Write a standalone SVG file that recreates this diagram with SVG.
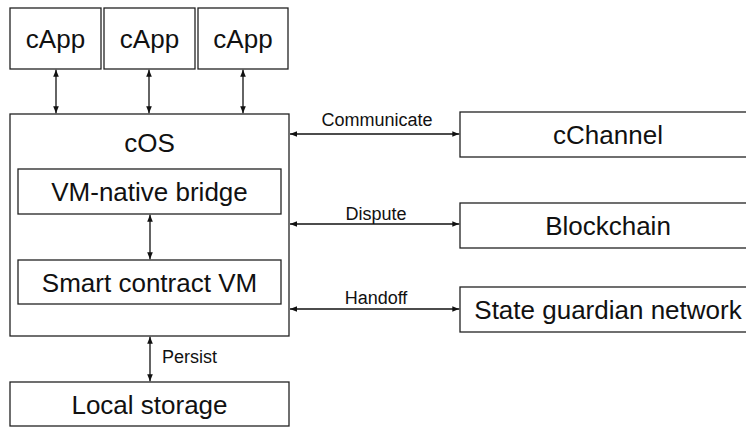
<svg xmlns="http://www.w3.org/2000/svg" width="746" height="427" viewBox="0 0 746 427">
<style>
.box{fill:#fff;stroke:#222;stroke-width:1.3}
.big{font-family:"Liberation Sans",Arial,sans-serif;font-size:26px;fill:#111;text-anchor:middle}
.sm{font-family:"Liberation Sans",Arial,sans-serif;font-size:18px;fill:#111;text-anchor:middle}
.ln{stroke:#111;stroke-width:1.3;fill:none;marker-start:url(#ah);marker-end:url(#ah)}
</style>
<defs>
<marker id="ah" viewBox="0 0 10 10" refX="10" refY="5" markerWidth="7" markerHeight="7" markerUnits="userSpaceOnUse" orient="auto-start-reverse">
<path d="M0,1 L10,5 L0,9 z" fill="#111"/>
</marker>
</defs>
<rect width="746" height="427" fill="#fff"/>
<g id="capp1"><rect class="box" x="10" y="8" width="91" height="61"/><text class="big" x="55.5" y="48">cApp</text></g>
<g id="capp2"><rect class="box" x="104" y="8" width="91" height="61"/><text class="big" x="149.5" y="48">cApp</text></g>
<g id="capp3"><rect class="box" x="198" y="8" width="90" height="61"/><text class="big" x="243" y="48">cApp</text></g>
<g id="cos"><rect class="box" x="10" y="114" width="279" height="222"/><text class="big" x="149.5" y="152">cOS</text></g>
<g id="bridge"><rect class="box" x="18" y="169" width="263" height="45"/><text class="big" x="149.5" y="201">VM-native bridge</text></g>
<g id="vm"><rect class="box" x="18" y="260" width="263" height="44"/><text class="big" x="149.5" y="292">Smart contract VM</text></g>
<g id="cchannel"><rect class="box" x="460" y="112" width="300" height="45"/><text class="big" x="608" y="144">cChannel</text></g>
<g id="blockchain"><rect class="box" x="460" y="203" width="300" height="45"/><text class="big" x="608" y="235">Blockchain</text></g>
<g id="sgn"><rect class="box" x="460" y="287" width="300" height="45"/><text class="big" x="608" y="319">State guardian network</text></g>
<g id="storage"><rect class="box" x="10" y="382" width="279" height="44"/><text class="big" x="149.5" y="414">Local storage</text></g>
<g id="connectors">
<line class="ln" x1="56" y1="69.7" x2="56" y2="113.3"/>
<line class="ln" x1="149" y1="69.7" x2="149" y2="113.3"/>
<line class="ln" x1="243" y1="69.7" x2="243" y2="113.3"/>
<line class="ln" x1="150" y1="214.7" x2="150" y2="259.3"/>
<line class="ln" x1="150" y1="336.7" x2="150" y2="381.3"/>
<line class="ln" x1="290" y1="134" x2="459.3" y2="134"/>
<line class="ln" x1="290" y1="224" x2="459.3" y2="224"/>
<line class="ln" x1="290" y1="309" x2="459.3" y2="309"/>
<text class="sm" x="377" y="126">Communicate</text>
<text class="sm" x="376" y="220">Dispute</text>
<text class="sm" x="376" y="304">Handoff</text>
<text class="sm" x="162" y="363" style="text-anchor:start">Persist</text>
</g>
</svg>
